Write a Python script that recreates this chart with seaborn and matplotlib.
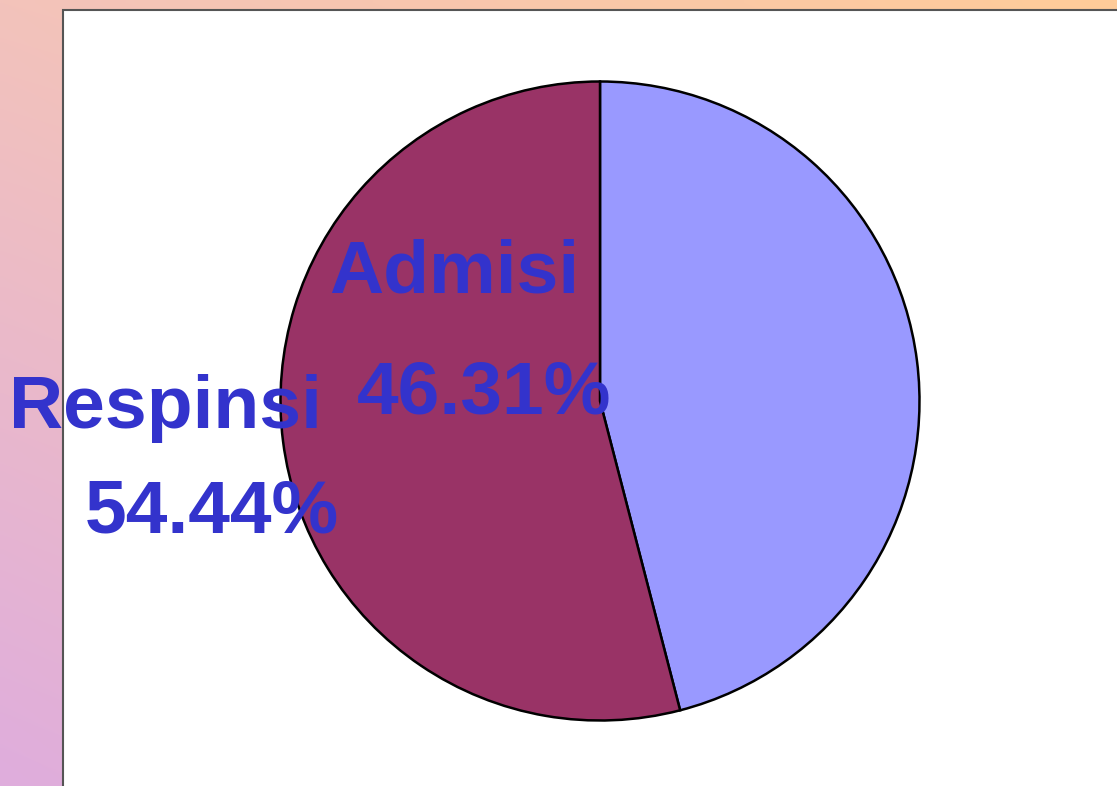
import matplotlib
matplotlib.use("Agg")
import matplotlib.pyplot as plt
import numpy as np
import seaborn as sns
from matplotlib.patches import Rectangle

# Data
labels = ["Admisi", "Respinsi"]
values = [46.31, 54.44]
slice_colors = ["#9999FF", "#993366"]
# label anchor (left, baseline) in pie units for name line and percent line
name_pos = [(-0.848, 0.341), (-1.85, -0.0845)]
pct_pos = [(-0.761, -0.0376), (-1.612, -0.413)]

W, H = 1117, 786
sns.set_style("white")
plt.rcParams['font.family'] = ['Liberation Sans', 'DejaVu Sans']

fig = plt.figure(figsize=(W / 100, H / 100), dpi=100)

# background gradient (slide style)
bg = fig.add_axes([0, 0, 1, 1])
tl = np.array([243, 195, 187]) / 255
tr = np.array([255, 204, 153]) / 255
bl = np.array([223, 173, 221]) / 255
br = np.array([238, 186, 185]) / 255
u = np.linspace(0, 1, 200)[None, :, None]
v = np.linspace(0, 1, 140)[:, None, None]
grad = (1 - v) * ((1 - u) * tl + u * tr) + v * ((1 - u) * bl + u * br)
bg.imshow(grad, extent=(0, W, H, 0), aspect='auto', interpolation='bilinear')
bg.add_patch(Rectangle((63, 10), W, H, facecolor='white', edgecolor='#555555', lw=1.5))
bg.set_xlim(0, W)
bg.set_ylim(H, 0)
bg.axis('off')

# pie
ax = fig.add_axes([0, 0, 1, 1])
ax.patch.set_alpha(0)
cx, cy, r = 600, 401, 319.5
ax.pie(values, colors=sns.color_palette(slice_colors), startangle=90, counterclock=False,
       wedgeprops=dict(edgecolor='black', linewidth=1.8))
ax.set_aspect('auto')
ax.set_xlim(-cx / r, (W - cx) / r)
ax.set_ylim((cy - H) / r, cy / r)
ax.axis('off')

for lab, val, (nx, ny), (px, py) in zip(labels, values, name_pos, pct_pos):
    ax.text(nx, ny, lab, color='#3333CC', fontsize=54, fontweight='bold', ha='left', va='baseline')
    ax.text(px, py, f"{val:.2f}%", color='#3333CC', fontsize=54, fontweight='bold', ha='left', va='baseline')

fig.savefig("out.png", dpi=100)
